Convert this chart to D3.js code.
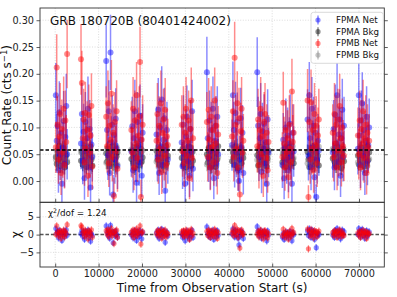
<!DOCTYPE html>
<html><head><meta charset="utf-8">
<script src="https://cdn.jsdelivr.net/npm/d3@7"></script>
<style>html,body{margin:0;padding:0;background:#fff}svg{display:block;font-family:"DejaVu Sans",sans-serif}</style>
</head><body><svg id="c" width="397" height="297"></svg>
<script>
// ---- data ----
const titleText = "GRB 180720B (80401424002)";
const orbitCenters = [1450, 7250, 13050, 18850, 24650, 30450, 36250, 42050, 47850, 53650, 59450, 65250, 71050];
const binOffsets = [-1300, -1100, -900, -700, -500, -300, -100, 100, 300, 500, 700, 900, 1100, 1300];
const modelRate = 0.058;
const chi2dof = 1.24;
const xTicks = [0, 10000, 20000, 30000, 40000, 50000, 60000, 70000];
const yTicksTop = [0.00, 0.05, 0.10, 0.15, 0.20, 0.25, 0.30];
const yTicksBot = [-5, 0, 5];
const seriesNames = ["FPMA Net", "FPMA Bkg", "FPMB Net", "FPMB Bkg"];

const fpmaNet = [
 [0.160,0.075,0.102,0.020,0.128,0.048,0.090,-0.005,0.062,0.112,0.032,0.082,0.140,0.050],
 [0.070,0.125,0.038,0.092,0.005,0.110,0.056,0.080,0.135,0.025,0.097,-0.012,0.068,0.045],
 [0.224,0.095,0.048,0.130,0.015,0.240,0.072,0.105,-0.025,0.086,0.040,0.116,0.060,0.028],
 [0.055,0.102,0.020,0.080,0.130,0.043,-0.003,0.110,0.066,0.035,0.122,0.077,0.010,0.090],
 [0.087,0.045,0.133,0.015,0.100,0.065,0.152,0.030,0.077,0.117,-0.018,0.058,0.095,0.040],
 [0.072,0.027,0.105,0.050,-0.005,0.083,0.120,0.037,0.065,0.010,0.097,0.055,0.130,0.023],
 [0.203,0.080,0.043,0.113,0.025,0.095,0.057,0.135,0.005,0.075,0.103,0.033,0.120,0.050],
 [0.067,0.160,0.095,0.030,0.127,0.053,0.110,0.020,0.000,0.040,0.117,0.063,0.090,0.015],
 [0.203,0.103,0.045,0.080,0.125,0.017,0.093,0.060,0.107,0.033,0.073,-0.005,0.115,0.053],
 [0.030,0.077,0.005,0.063,0.100,0.040,0.085,0.020,0.070,0.107,0.047,-0.005,0.090,0.055],
 [0.115,0.047,0.160,0.080,0.025,0.135,0.065,0.103,0.007,0.090,-0.030,0.040,0.075,0.057],
 [0.053,0.097,0.025,0.123,0.070,0.160,0.035,0.087,0.115,0.010,0.080,0.133,0.045,0.103],
 [0.060,0.160,0.085,0.030,0.113,0.145,0.047,0.095,0.015,0.075,0.120,0.037,0.067,0.100]
];
const fpmaNetErr = [
 [0.060,0.050,0.055,0.042,0.058,0.046,0.052,0.038,0.048,0.056,0.044,0.050,0.060,0.047],
 [0.048,0.058,0.044,0.052,0.040,0.056,0.047,0.050,0.060,0.043,0.054,0.038,0.049,0.046],
 [0.068,0.053,0.046,0.058,0.042,0.070,0.049,0.055,0.036,0.051,0.045,0.057,0.048,0.043],
 [0.047,0.055,0.042,0.051,0.059,0.045,0.037,0.056,0.049,0.044,0.058,0.050,0.040,0.053],
 [0.052,0.046,0.059,0.041,0.054,0.048,0.062,0.043,0.050,0.057,0.035,0.047,0.053,0.045],
 [0.049,0.042,0.055,0.046,0.037,0.051,0.058,0.044,0.048,0.040,0.054,0.047,0.059,0.042],
 [0.066,0.050,0.045,0.056,0.041,0.053,0.047,0.060,0.039,0.049,0.055,0.043,0.057,0.046],
 [0.048,0.063,0.053,0.042,0.058,0.046,0.055,0.038,0.020,0.044,0.057,0.048,0.052,0.040],
 [0.065,0.054,0.045,0.050,0.058,0.040,0.053,0.047,0.055,0.043,0.049,0.036,0.056,0.046],
 [0.043,0.050,0.039,0.048,0.054,0.045,0.052,0.041,0.049,0.055,0.046,0.037,0.053,0.047],
 [0.056,0.046,0.062,0.050,0.042,0.059,0.048,0.054,0.039,0.052,0.024,0.045,0.050,0.047],
 [0.047,0.054,0.042,0.057,0.049,0.060,0.044,0.052,0.056,0.040,0.050,0.058,0.046,0.054],
 [0.048,0.060,0.051,0.043,0.056,0.058,0.046,0.053,0.041,0.050,0.057,0.045,0.049,0.054]
];
const fpmbNet = [
 [0.063,0.212,0.105,0.040,0.083,0.125,0.015,0.097,0.053,0.135,0.030,0.113,0.073,0.237],
 [0.227,0.183,0.080,0.115,0.035,0.127,0.060,0.095,0.010,0.123,0.053,0.085,0.140,0.027],
 [0.120,0.065,0.145,0.033,0.103,0.077,0.163,0.045,0.090,-0.028,0.110,0.055,0.130,0.023],
 [0.095,0.053,0.135,0.025,0.113,0.070,0.160,0.043,0.085,0.120,0.222,-0.030,0.077,0.105],
 [0.075,0.125,0.040,0.103,0.060,0.145,0.017,0.090,0.115,0.047,0.133,0.030,0.083,0.067],
 [0.105,0.055,0.120,0.033,0.090,0.135,0.047,0.075,0.113,0.005,0.097,0.150,0.043,0.080],
 [0.110,0.045,0.133,0.077,0.025,0.120,0.063,0.095,0.035,0.150,0.070,0.103,0.015,0.087],
 [0.083,0.130,0.045,0.230,0.105,0.060,0.145,0.025,0.117,-0.025,0.093,0.135,0.053,0.075],
 [0.065,0.115,0.030,0.095,0.135,0.050,0.083,0.010,0.110,0.125,0.043,0.090,0.020,0.073],
 [0.045,0.146,0.070,0.025,0.095,0.053,0.080,0.007,0.105,0.060,0.035,0.167,0.073,0.090],
 [0.150,-0.030,0.110,0.040,0.147,0.060,0.095,0.020,0.125,0.067,0.103,0.033,0.085,0.115],
 [0.090,0.045,0.125,0.070,0.105,0.025,0.115,0.057,0.140,0.080,0.035,0.100,0.065,0.047],
 [0.085,0.050,0.113,0.025,0.097,0.070,0.130,0.043,0.080,0.105,0.015,0.090,0.063,0.075]
];
const fpmbNetErr = [
 [0.048,0.062,0.054,0.045,0.051,0.058,0.041,0.055,0.047,0.060,0.044,0.056,0.050,0.064],
 [0.066,0.060,0.051,0.057,0.044,0.058,0.048,0.054,0.040,0.057,0.047,0.052,0.061,0.043],
 [0.057,0.049,0.061,0.044,0.055,0.050,0.063,0.046,0.053,0.034,0.056,0.048,0.058,0.043],
 [0.054,0.047,0.059,0.042,0.056,0.049,0.062,0.045,0.052,0.057,0.066,0.033,0.050,0.055],
 [0.050,0.058,0.045,0.055,0.048,0.061,0.041,0.053,0.057,0.046,0.059,0.043,0.052,0.049],
 [0.055,0.047,0.057,0.044,0.053,0.059,0.046,0.051,0.056,0.039,0.054,0.062,0.045,0.052],
 [0.056,0.046,0.059,0.051,0.042,0.057,0.048,0.054,0.044,0.062,0.050,0.055,0.040,0.053],
 [0.051,0.058,0.046,0.067,0.055,0.048,0.060,0.043,0.057,0.022,0.053,0.059,0.047,0.050],
 [0.049,0.057,0.044,0.054,0.059,0.047,0.052,0.040,0.056,0.058,0.046,0.053,0.042,0.050],
 [0.046,0.058,0.050,0.043,0.054,0.047,0.052,0.039,0.055,0.048,0.045,0.061,0.050,0.053],
 [0.059,0.022,0.056,0.045,0.061,0.048,0.054,0.042,0.058,0.049,0.055,0.044,0.052,0.057],
 [0.053,0.046,0.058,0.050,0.055,0.042,0.057,0.048,0.060,0.051,0.045,0.054,0.049,0.047],
 [0.052,0.047,0.056,0.042,0.054,0.050,0.059,0.046,0.051,0.055,0.040,0.053,0.048,0.050]
];
const fpmaBkg = [
 [0.045,0.032,0.058,0.040,0.066,0.028,0.050,0.037,0.061,0.043,0.025,0.054,0.047,0.035],
 [0.038,0.055,0.030,0.048,0.062,0.042,0.026,0.057,0.045,0.034,0.051,0.064,0.040,0.029],
 [0.052,0.036,0.060,0.044,0.027,0.055,0.040,0.065,0.033,0.048,0.058,0.030,0.046,0.053],
 [0.041,0.057,0.034,0.050,0.024,0.046,0.063,0.038,0.054,0.029,0.049,0.060,0.036,0.044],
 [0.056,0.039,0.048,0.030,0.061,0.044,0.035,0.058,0.027,0.051,0.042,0.066,0.033,0.047],
 [0.043,0.060,0.031,0.052,0.040,0.025,0.056,0.046,0.035,0.063,0.049,0.028,0.054,0.038],
 [0.050,0.034,0.062,0.041,0.055,0.028,0.047,0.059,0.036,0.044,0.026,0.053,0.040,0.065],
 [0.037,0.053,0.044,0.064,0.030,0.049,0.058,0.024,0.046,0.040,0.061,0.033,0.052,0.043],
 [0.048,0.029,0.056,0.039,0.063,0.045,0.032,0.052,0.060,0.036,0.050,0.027,0.042,0.057],
 [0.035,0.051,0.042,0.060,0.027,0.047,0.055,0.038,0.064,0.030,0.045,0.053,0.041,0.033],
 [0.054,0.040,0.026,0.049,0.061,0.035,0.057,0.044,0.031,0.052,0.065,0.038,0.047,0.029],
 [0.042,0.058,0.036,0.050,0.028,0.063,0.045,0.033,0.055,0.040,0.024,0.052,0.060,0.037],
 [0.047,0.031,0.055,0.040,0.062,0.036,0.050,0.027,0.058,0.044,0.034,0.065,0.039,0.053]
];
const fpmbBkg = [
 [0.040,0.055,0.030,0.062,0.046,0.035,0.058,0.027,0.050,0.042,0.065,0.033,0.052,0.038],
 [0.053,0.036,0.060,0.044,0.029,0.057,0.041,0.066,0.032,0.049,0.038,0.055,0.026,0.047],
 [0.034,0.061,0.045,0.028,0.054,0.040,0.063,0.037,0.050,0.025,0.058,0.043,0.064,0.031],
 [0.059,0.042,0.027,0.055,0.038,0.064,0.033,0.049,0.044,0.060,0.030,0.052,0.040,0.057],
 [0.036,0.050,0.063,0.042,0.028,0.055,0.047,0.032,0.060,0.039,0.053,0.026,0.061,0.044],
 [0.057,0.030,0.046,0.062,0.035,0.051,0.027,0.059,0.043,0.038,0.064,0.048,0.032,0.055],
 [0.031,0.047,0.039,0.058,0.026,0.061,0.044,0.035,0.053,0.066,0.040,0.029,0.056,0.045],
 [0.062,0.044,0.030,0.052,0.047,0.036,0.065,0.041,0.028,0.057,0.034,0.060,0.045,0.050],
 [0.039,0.060,0.048,0.025,0.054,0.033,0.063,0.042,0.030,0.056,0.045,0.064,0.037,0.050],
 [0.058,0.028,0.052,0.045,0.063,0.034,0.041,0.060,0.026,0.049,0.057,0.036,0.065,0.043],
 [0.033,0.055,0.044,0.062,0.038,0.027,0.051,0.060,0.046,0.035,0.057,0.041,0.030,0.064],
 [0.060,0.039,0.054,0.029,0.047,0.065,0.035,0.056,0.042,0.061,0.050,0.031,0.045,0.058],
 [0.035,0.057,0.043,0.064,0.030,0.050,0.040,0.061,0.034,0.055,0.046,0.028,0.059,0.041]
];
const fpmaBkgErr = [0.013,0.012,0.014,0.013,0.012,0.013,0.014,0.012,0.013,0.012,0.014,0.013,0.012];
const fpmbBkgErr = [0.012,0.013,0.012,0.014,0.013,0.012,0.013,0.014,0.012,0.013,0.012,0.014,0.013];

// ---- build point lists ----
function points(vals, errs) {
  const out = [];
  vals.forEach((grp, g) => grp.forEach((v, i) => {
    const e = Array.isArray(errs[g]) ? errs[g][i] : errs[g];
    out.push({t: orbitCenters[g] + binOffsets[i], v: v, e: e});
  }));
  return out;
}
const ptsA = points(fpmaNet, fpmaNetErr), ptsAB = points(fpmaBkg, fpmaBkgErr);
const ptsB = points(fpmbNet, fpmbNetErr), ptsBB = points(fpmbBkg, fpmbBkgErr);
const resid = pts => pts.map(p => ({t: p.t, v: (p.v - modelRate) / p.e, e: 1}));

// ---- layout ----
const svg = d3.select("#c");
const L = 40, R = 384.3, T1 = 8, B1 = 202.3, B2 = 267;
const x = d3.scaleLinear().domain([-3500, 75830]).range([L, R]);
const yT = d3.scaleLinear().domain([-0.0397, 0.3228]).range([B1, T1]);
const yB = d3.scaleLinear().domain([-9.1, 9.07]).range([B2, B1]);
const font = '"DejaVu Sans", sans-serif';

svg.append("rect").attr("width", 397).attr("height", 297).attr("fill", "#fff");
const defs = svg.append("defs");
defs.append("clipPath").attr("id", "cT").append("rect").attr("x", L).attr("y", T1).attr("width", R - L).attr("height", B1 - T1);
defs.append("clipPath").attr("id", "cB").append("rect").attr("x", L).attr("y", B1).attr("width", R - L).attr("height", B2 - B1);

function grid(yScale, yTicks, y0, y1) {
  const g = svg.append("g").attr("stroke", "#b0b0b0").attr("stroke-width", 0.6).attr("stroke-dasharray", "1,1.6").attr("opacity", 0.7);
  g.selectAll(".gx").data(xTicks).join("line").attr("x1", d => x(d)).attr("x2", d => x(d)).attr("y1", y0).attr("y2", y1);
  g.selectAll(".gy").data(yTicks).join("line").attr("x1", L).attr("x2", R).attr("y1", d => yScale(d)).attr("y2", d => yScale(d));
}
grid(yT, yTicksTop, T1, B1);
grid(yB, yTicksBot, B1, B2);

function errSeries(parent, pts, yScale, color, r, alpha, lw) {
  const g = parent.append("g");
  g.selectAll("line").data(pts).join("line")
    .attr("x1", d => x(d.t)).attr("x2", d => x(d.t))
    .attr("y1", d => yScale(d.v - d.e)).attr("y2", d => yScale(d.v + d.e))
    .attr("stroke", color).attr("stroke-opacity", alpha).attr("stroke-width", lw);
  g.selectAll("circle").data(pts).join("circle")
    .attr("cx", d => x(d.t)).attr("cy", d => yScale(d.v)).attr("r", r)
    .attr("fill", color).attr("fill-opacity", alpha);
}
const colors = ["#0000ff", "#000000", "#ff0000", "#808080"];
const topG = svg.append("g").attr("clip-path", "url(#cT)");
errSeries(topG, ptsAB, yT, colors[1], 3, 0.45, 1.5);
errSeries(topG, ptsBB, yT, colors[3], 3, 0.45, 1.5);
errSeries(topG, ptsA, yT, colors[0], 3, 0.45, 1.5);
errSeries(topG, ptsB, yT, colors[2], 3, 0.45, 1.5);
topG.append("line").attr("x1", L).attr("x2", R).attr("y1", yT(modelRate)).attr("y2", yT(modelRate))
  .attr("stroke", "#000").attr("stroke-width", 1.4).attr("stroke-dasharray", "3.5,2");

const botG = svg.append("g").attr("clip-path", "url(#cB)");
botG.append("line").attr("x1", L).attr("x2", R).attr("y1", yB(0)).attr("y2", yB(0))
  .attr("stroke", "#555").attr("stroke-width", 1.5).attr("stroke-dasharray", "3.5,2");
errSeries(botG, resid(ptsA), yB, colors[0], 2.6, 0.45, 1.2);
errSeries(botG, resid(ptsB), yB, colors[2], 2.6, 0.45, 1.2);

// frames
[[T1, B1], [B1, B2]].forEach(([a, b]) => svg.append("rect").attr("x", L).attr("y", a).attr("width", R - L).attr("height", b - a)
  .attr("fill", "none").attr("stroke", "#333").attr("stroke-width", 0.9));

// axes (ticks)
function styleAxis(g) {
  g.select(".domain").remove();
  g.selectAll(".tick line").attr("stroke", "#333").attr("stroke-width", 0.8);
  g.selectAll(".tick text").attr("font-family", font).attr("font-size", 9.7).attr("fill", "#222");
}
const fmtTop = d3.format(".2f");
svg.append("g").attr("transform", `translate(${L},0)`).call(d3.axisLeft(yT).tickValues(yTicksTop).tickFormat(fmtTop).tickSize(3.5).tickPadding(2.5)).call(styleAxis);
svg.append("g").attr("transform", `translate(${R},0)`).call(d3.axisRight(yT).tickValues(yTicksTop).tickFormat("").tickSize(3.5)).call(styleAxis);
svg.append("g").attr("transform", `translate(${L},0)`).call(d3.axisLeft(yB).tickValues(yTicksBot).tickFormat(d => d < 0 ? "\u2212" + Math.abs(d) : d).tickSize(3.5).tickPadding(2.5)).call(styleAxis);
svg.append("g").attr("transform", `translate(${R},0)`).call(d3.axisRight(yB).tickValues(yTicksBot).tickFormat("").tickSize(3.5)).call(styleAxis);
svg.append("g").attr("transform", `translate(0,${B1})`).call(d3.axisBottom(x).tickValues(xTicks).tickFormat("").tickSize(-3.5)).call(styleAxis);
svg.append("g").attr("transform", `translate(0,${B2})`).call(d3.axisBottom(x).tickValues(xTicks).tickFormat(d3.format("d")).tickSize(-3.5).tickPadding(3.5)).call(styleAxis);

// texts
svg.append("text").attr("x", 50).attr("y", 25).attr("font-family", font).attr("font-size", 12).attr("fill", "#111").text(titleText);
const yl = svg.append("text").attr("transform", `translate(11,${(T1 + B1) / 2}) rotate(-90)`).attr("text-anchor", "middle")
  .attr("font-family", font).attr("font-size", 12).attr("fill", "#111");
yl.append("tspan").text("Count Rate (cts s");
yl.append("tspan").attr("font-size", 8.5).attr("dy", -4.5).text("\u22121");
yl.append("tspan").attr("dy", 4.5).text(")");
svg.append("text").attr("transform", `translate(20,${yB(0)}) rotate(-90)`).attr("text-anchor", "middle")
  .attr("font-family", font).attr("font-size", 12).attr("fill", "#111").text("\u03c7");
svg.append("text").attr("x", (L + R) / 2).attr("y", 291.5).attr("text-anchor", "middle").attr("font-family", font).attr("font-size", 12).attr("fill", "#111").text("Time from Observation Start (s)");
const ct = svg.append("text").attr("x", 48).attr("y", 216).attr("font-family", font).attr("font-size", 8.8).attr("fill", "#111");
ct.append("tspan").text("\u03c7");
ct.append("tspan").attr("font-size", 6.2).attr("dy", -3.5).text("2");
ct.append("tspan").attr("dy", 3.5).text("/dof = " + chi2dof.toFixed(2));

// legend
const lg = svg.append("g");
lg.append("rect").attr("x", 311).attr("y", 12.3).attr("width", 72.3).attr("height", 51).attr("rx", 2.5)
  .attr("fill", "#fff").attr("fill-opacity", 0.8).attr("stroke", "#d0d0d0").attr("stroke-width", 0.8);
seriesNames.forEach((n, i) => {
  const yy = 20 + i * 11.7;
  lg.append("line").attr("x1", 318).attr("x2", 318).attr("y1", yy - 4.5).attr("y2", yy + 4.5).attr("stroke", colors[i]).attr("stroke-opacity", 0.45).attr("stroke-width", 1.5);
  lg.append("circle").attr("cx", 318).attr("cy", yy).attr("r", 2.6).attr("fill", colors[i]).attr("fill-opacity", 0.45);
  lg.append("text").attr("x", 336).attr("y", yy + 3).attr("font-family", font).attr("font-size", 8.7).attr("fill", "#111").text(n);
});
</script></body></html>
